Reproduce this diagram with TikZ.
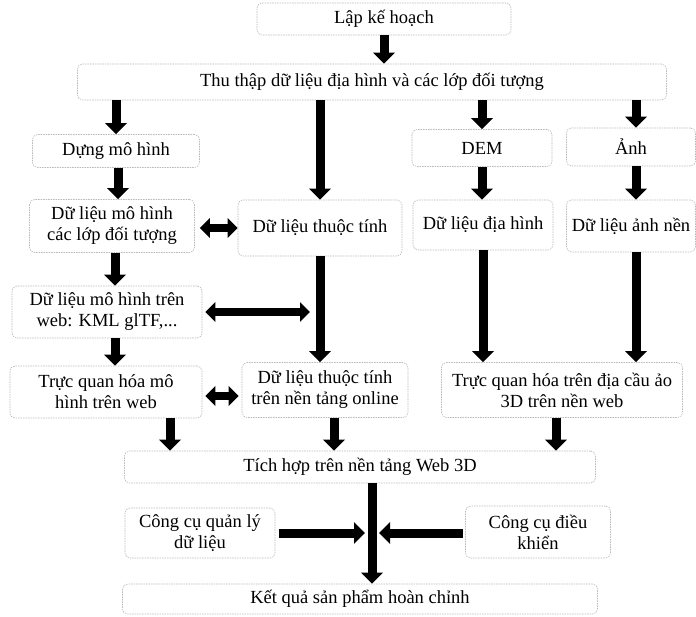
\documentclass[tikz,border=0pt]{standalone}
\usepackage{fontspec}
\setmainfont{Liberation Serif}
\usetikzlibrary{arrows.meta}

\begin{document}
\begin{tikzpicture}[
        x=1pt, y=-1pt,
        every node/.style={font=\fontsize{18.5}{21}\selectfont},
        box/.style={draw=gray!55, dash pattern=on 1.5pt off 1pt, rounded corners=5pt, line width=0.6pt, align=center, inner sep=0pt},
        arr/.style={line width=9pt, -{Triangle[width=21pt,length=11pt]}},
        dbl/.style={line width=8pt, {Triangle[width=19pt,length=10pt]}-{Triangle[width=19pt,length=10pt]}}
    ]

    \useasboundingbox (0,0) rectangle (696,617);

    % Lập kế hoạch
    \node[box, minimum width=254pt, minimum height=32pt] (plan) at (384, 19) {Lập kế hoạch};

    % Thu thập dữ liệu
    \node[box, minimum width=589pt, minimum height=36pt] (collect) at (372, 82) {Thu thập dữ liệu địa hình và các lớp đối tượng};

    % Hàng 2: nguồn dữ liệu
    \node[box, minimum width=167pt, minimum height=33pt] (build_model) at (116, 151) {Dựng mô hình};
    \node[box, minimum width=140pt, minimum height=37pt] (dem) at (482, 148) {DEM};
    \node[box, minimum width=129pt, minimum height=38pt] (image) at (631, 147) {Ảnh};

    % Hàng 3: dữ liệu
    \node[box, minimum width=165pt, minimum height=53pt] (model_data) at (112, 226) {Dữ liệu mô hình\\các lớp đối tượng};
    \node[box, minimum width=164pt, minimum height=56pt] (attr) at (320, 228) {Dữ liệu thuộc tính};
    \node[box, minimum width=140pt, minimum height=50pt] (terrain) at (483, 225) {Dữ liệu địa hình};
    \node[box, minimum width=129pt, minimum height=52pt] (basemap) at (631, 226) {Dữ liệu ảnh nền};

    % Hàng 4: dữ liệu mô hình trên web
    \node[box, minimum width=190pt, minimum height=52pt] (web_model) at (107, 312) {Dữ liệu mô hình trên\\web: KML glTF,...};

    % Hàng 5: trực quan hóa
    \node[box, minimum width=192pt, minimum height=52pt] (vis_model) at (106, 392) {Trực quan hóa mô\\hình trên web};
    \node[box, minimum width=166pt, minimum height=55pt] (attr_online) at (325, 390) {Dữ liệu thuộc tính\\trên nền tảng online};
    \node[box, minimum width=241pt, minimum height=55pt] (vis_globe) at (562, 390) {Trực quan hóa trên địa cầu ảo\\3D trên nền web};

    % Tích hợp
    \node[box, minimum width=471pt, minimum height=32pt] (integrate) at (360, 467) {Tích hợp trên nền tảng Web 3D};

    % Công cụ
    \node[box, minimum width=150pt, minimum height=50pt] (manage) at (200, 533) {Công cụ quản lý\\dữ liệu};
    \node[box, minimum width=145pt, minimum height=52pt] (control) at (538, 532) {Công cụ điều\\khiển};

    % Kết quả
    \node[box, minimum width=475pt, minimum height=30pt] (result) at (360, 599) {Kết quả sản phẩm hoàn chỉnh};

    % Mũi tên
    \draw[arr] (plan.south) -- (plan.south |- collect.north);
    \draw[arr] (collect.south -| build_model) -- (build_model.north);
    \draw[arr] (collect.south -| attr) -- (attr.north);
    \draw[arr] (collect.south -| dem) -- (dem.north);
    \draw[arr] ([xshift=5pt]image.north |- collect.south) -- ([xshift=5pt]image.north);

    \draw[arr] ([xshift=2pt]build_model.south) -- ([xshift=2pt]build_model.south |- model_data.north);
    \draw[arr] (dem.south) -- (dem.south |- terrain.north);
    \draw[arr] ([xshift=5pt]image.south) -- ([xshift=5pt]image.south |- basemap.north);

    \draw[dbl] ([xshift=5pt]model_data.east |- attr.west) -- (attr.west);
    \draw[arr] ([xshift=3pt]model_data.south) -- ([xshift=3pt]model_data.south |- web_model.north);
    \draw[arr] (attr.south) -- (attr.south |- attr_online.north);
    \draw[arr] (terrain.south) -- (terrain.south |- vis_globe.north);
    \draw[arr] ([xshift=5pt]basemap.south) -- ([xshift=5pt]basemap.south |- vis_globe.north);

    \draw[dbl, shorten >=10pt] ([xshift=3pt]web_model.east) -- (attr.south |- web_model.east);
    \draw[arr] ([xshift=8pt]web_model.south) -- ([xshift=8pt]web_model.south |- vis_model.north);
    \draw[dbl] ([xshift=3pt]vis_model.east |- 0,396) -- ([xshift=-3pt]attr_online.west |- 0,396);

    \draw[arr] ([xshift=64pt]vis_model.south) -- ([xshift=64pt]vis_model.south |- integrate.north);
    \draw[arr] ([xshift=9pt]attr_online.south) -- ([xshift=9pt]attr_online.south |- integrate.north);
    \draw[arr] ([xshift=-6pt]vis_globe.south) -- ([xshift=-6pt]vis_globe.south |- integrate.north);

    \coordinate (hub) at ([xshift=12pt]integrate.south |- manage.east);
    \draw[arr] ([xshift=12pt]integrate.south) -- ([xshift=12pt]integrate.south |- result.north);
    \draw[arr, shorten >=7pt] ([xshift=4pt]manage.east) -- (hub);
    \draw[arr, shorten >=7pt] ([xshift=-2pt]control.west |- hub) -- (hub);

\end{tikzpicture}
\end{document}
